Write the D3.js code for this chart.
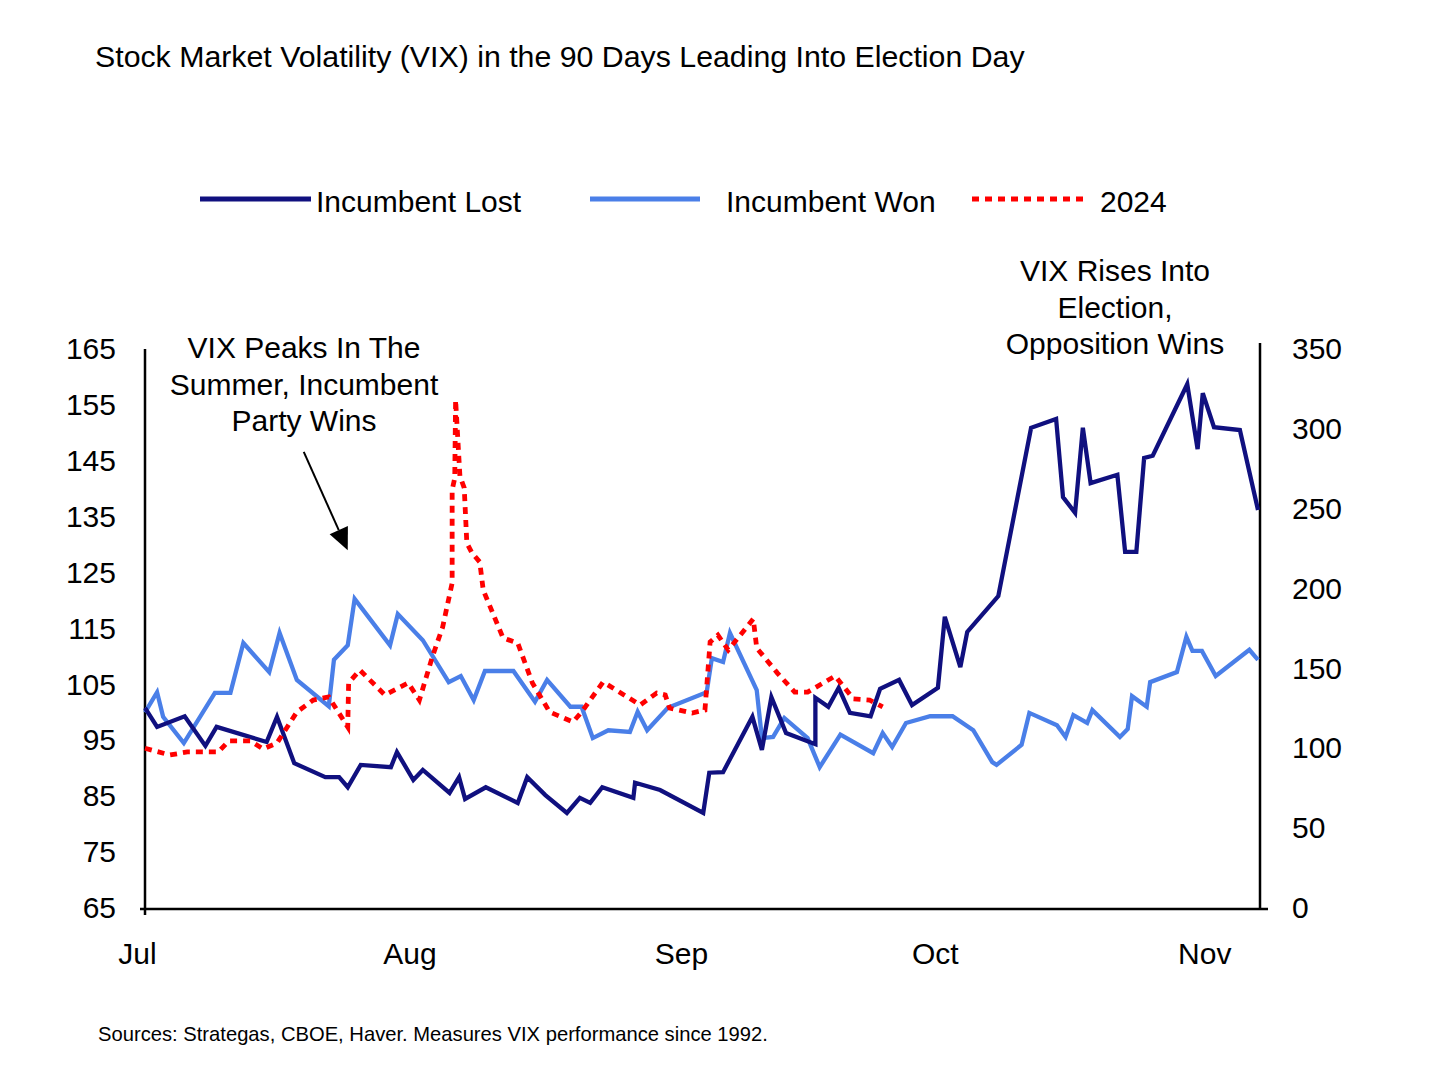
<!DOCTYPE html>
<html>
<head>
<meta charset="utf-8">
<script src="https://cdn.jsdelivr.net/npm/d3@7"></script>
<style>
  body { margin: 0; background: #fff; }
  svg text { font-family: "Liberation Sans", Arial, sans-serif; fill: #000; }
</style>
</head>
<body>
<div id="chart"></div>
<script>
// x values are days counted from July 1
const monthDays = [0, 31, 62, 92, 123];
const monthLabels = ["Jul", "Aug", "Sep", "Oct", "Nov"];
const leftTicks = [65, 75, 85, 95, 105, 115, 125, 135, 145, 155, 165];
const rightTicks = [0, 50, 100, 150, 200, 250, 300, 350];

const lostDays = [0, 1.4, 4.6, 7.0, 8.3, 14.1, 15.3, 17.3, 20.9, 22.5, 23.5, 25.0, 28.5, 29.2, 31.1, 32.2,
  35.3, 36.4, 37.1, 39.5, 43.2, 44.3, 46.4, 48.9, 50.4, 51.6, 53.0, 56.6, 56.8, 59.7, 64.7, 65.4, 67.0,
  70.4, 71.5, 72.6, 74.3, 77.7, 77.7, 79.2, 80.4, 81.7, 84.1, 85.2, 87.4, 88.9, 91.9, 92.7, 94.5, 95.3,
  98.9, 102.7, 105.6, 106.4, 107.8, 108.7, 109.6, 112.7, 113.6, 114.9, 115.8, 116.8, 120.8, 122.0, 122.6,
  123.9, 126.9, 129];
const lostValues = [100.8, 97.4, 99.3, 94.0, 97.4, 94.7, 99.2, 90.9, 88.4, 88.4, 86.6, 90.6, 90.2, 92.9, 87.9, 89.7,
  85.6, 88.4, 84.5, 86.6, 83.8, 88.4, 85.2, 82.0, 84.7, 83.8, 86.6, 84.7, 87.4, 86.1, 82.0, 89.2, 89.3,
  99.2, 93.3, 102.7, 96.3, 94.3, 102.6, 101.0, 104.4, 99.9, 99.3, 104.2, 105.8, 101.3, 104.4, 117.1, 108.1, 114.4,
  120.8, 150.9, 152.5, 138.5, 135.7, 150.9, 141.0, 142.5, 128.7, 128.7, 145.5, 145.9, 158.7, 147.1, 157.1,
  151.0, 150.5, 136.2];

const wonDays = [0, 1.4, 2.1, 4.5, 8.1, 9.9, 11.4, 14.4, 15.6, 17.6, 21.3, 21.9, 23.5, 24.3, 28.4, 29.3, 32.2,
  35.2, 36.6, 38.1, 39.4, 42.7, 45.2, 46.6, 49.3, 50.6, 51.9, 53.7, 56.2, 57.1, 58.2, 60.6, 65.1, 65.7, 67.0,
  67.8, 70.9, 71.5, 72.8, 74.1, 76.8, 78.2, 80.6, 84.4, 85.5, 86.6, 88.2, 91.0, 93.6, 96.0, 98.2, 98.7,
  101.6, 102.5, 105.7, 106.7, 107.6, 109.2, 109.8, 113.0, 113.9, 114.4, 116.1, 116.5, 119.6, 120.7, 121.4,
  122.5, 124.1, 128.0, 129];
const wonValues = [100, 103.6, 99.2, 94.5, 103.5, 103.5, 112.4, 107.2, 114.2, 105.8, 101.1, 109.4, 112, 120.3, 112, 117.6, 112.9,
  105.4, 106.5, 102.2, 107.4, 107.4, 101.9, 105.8, 101, 101, 95.4, 96.8, 96.5, 100.1, 96.8, 100.8, 103.6, 109.7, 109,
  114.2, 104, 95.4, 95.6, 99, 95.4, 90.2, 96, 92.7, 96.3, 93.8, 98.1, 99.3, 99.3, 96.8, 91.1, 90.6,
  94.2, 99.9, 97.7, 95.6, 99.5, 98.1, 100.4, 95.6, 97, 102.9, 101, 105.4, 107.2, 113.5, 111,
  111, 106.5, 111.2, 109.4];

const y2024Days = [0, 2.9, 4.9, 8.5, 9.7, 12.2, 13.7, 15.3, 17.6, 19.5, 21.3, 23.5, 23.6, 24.9, 27.8, 30.5,
  31.8, 33.3, 34.5, 35.6, 35.6, 35.9, 36.0, 36.5, 37.0, 37.3, 37.9, 38.8, 39.2, 41.5, 43.2, 44.9, 46.9,
  49.6, 50.6, 53.1, 57.4, 59.3, 60.3, 60.8, 63.4, 64.9, 65.5, 66.4, 67.6, 70.5, 70.9, 73.3, 75.3, 76.8,
  80.0, 82.1, 84.0, 85.5];
const y2024Values = [100, 95.8, 97.7, 97.7, 104.6, 104.6, 99.6, 103.3, 122.7, 130.2, 132.1, 113.3, 140.9, 149.0, 133.4, 140.9,
  130.2, 157.2, 175.9, 203.5, 261.7, 269.2, 318.1, 270.5, 263.0, 228.5, 222.3, 216.6, 199.1, 169.1, 165.9, 140.9, 122.7,
  116.5, 122.7, 141.5, 127.1, 134.6, 133.4, 125.2, 122.1, 124.0, 166.6, 170.9, 161.5, 181.0, 162.8, 147.1, 135.2, 135.2,
  145.3, 130.9, 130.2, 125.9];

const colors = { lost: "#10107f", won: "#4a7fe8", y2024: "#ff0000" };

const width = 1430, height = 1069;
const svg = d3.select("#chart").append("svg")
  .attr("width", width).attr("height", height);

const x = d3.scaleLinear().domain([0, 129]).range([145, 1258]);
const yLeft = d3.scaleLinear().domain([65, 165]).range([908, 349]);
const yRight = d3.scaleLinear().domain([0, 350]).range([908, 349]);

// title
svg.append("text").attr("x", 95).attr("y", 67)
  .style("font-size", "30.3px").text("Stock Market Volatility (VIX) in the 90 Days Leading Into Election Day");

// axes
const gLeft = svg.append("g").attr("transform", "translate(145,0)")
  .call(d3.axisLeft(yLeft).tickValues(leftTicks).tickSize(0).tickPadding(29));
const gRight = svg.append("g").attr("transform", "translate(1260,0)")
  .call(d3.axisRight(yRight).tickValues(rightTicks).tickSize(0).tickPadding(32));
const gBottom = svg.append("g").attr("transform", "translate(0,909)")
  .call(d3.axisBottom(x).tickValues(monthDays).tickFormat((d, i) => monthLabels[i]).tickSize(0).tickPadding(34));
gBottom.select(".domain").attr("d", "M140,0H1268");
gLeft.select(".domain").attr("d", "M0,349V915");
gRight.select(".domain").attr("d", "M0,343V909");

[gLeft, gRight, gBottom].forEach(g => {
  g.select(".domain").attr("stroke", "#000").attr("stroke-width", 2.5);
  g.selectAll("text").style("font-size", "30px").attr("fill", "#000").attr("font-family", null);
});
const labelShift = [-8, -3, 1, -4, -2];
gBottom.selectAll(".tick text").attr("dx", (d, i) => labelShift[i]);

// series
const toPts = (days, vals) => days.map((d, i) => ({ day: d, v: vals[i] }));
const lineL = d3.line().x(d => x(d.day)).y(d => yLeft(d.v));
const lineR = d3.line().x(d => x(d.day)).y(d => yRight(d.v));

svg.append("path").datum(toPts(wonDays, wonValues))
  .attr("d", lineL).attr("fill", "none").attr("stroke", colors.won).attr("stroke-width", 4.3);
svg.append("path").datum(toPts(lostDays, lostValues))
  .attr("d", lineL).attr("fill", "none").attr("stroke", colors.lost).attr("stroke-width", 4.3);
svg.append("path").datum(toPts(y2024Days, y2024Values))
  .attr("d", lineR).attr("fill", "none").attr("stroke", colors.y2024).attr("stroke-width", 4.8)
  .attr("stroke-dasharray", "7,6");

// legend
const legend = [
  { name: "Incumbent Lost", color: colors.lost, x1: 200, x2: 311, tx: 316, dash: null },
  { name: "Incumbent Won", color: colors.won, x1: 590, x2: 700, tx: 726, dash: null },
  { name: "2024", color: colors.y2024, x1: 972, x2: 1085, tx: 1100, dash: "7,6" }
];
legend.forEach(l => {
  svg.append("line").attr("x1", l.x1).attr("x2", l.x2).attr("y1", 199).attr("y2", 199)
    .attr("stroke", l.color).attr("stroke-width", 5).attr("stroke-dasharray", l.dash);
  svg.append("text").attr("x", l.tx).attr("y", 212).style("font-size", "30px").text(l.name);
});

// annotations
const note1 = ["VIX Peaks In The", "Summer, Incumbent", "Party Wins"];
const note2 = ["VIX Rises Into", "Election,", "Opposition Wins"];
note1.forEach((t, i) => svg.append("text").attr("x", 304).attr("y", 358 + i * 36.5)
  .attr("text-anchor", "middle").style("font-size", "30px").text(t));
note2.forEach((t, i) => svg.append("text").attr("x", 1115).attr("y", 281 + i * 36.5)
  .attr("text-anchor", "middle").style("font-size", "30px").text(t));

// arrow
const ax1 = x(18.4), ay1 = yLeft(146.6), ax2 = x(23.5), ay2 = yLeft(129);
const ang = Math.atan2(ay2 - ay1, ax2 - ax1);
const headLen = 22, headW = 10;
svg.append("line").attr("x1", ax1).attr("y1", ay1)
  .attr("x2", ax2 - Math.cos(ang) * headLen).attr("y2", ay2 - Math.sin(ang) * headLen)
  .attr("stroke", "#000").attr("stroke-width", 2);
const bx = ax2 - Math.cos(ang) * headLen, by = ay2 - Math.sin(ang) * headLen;
svg.append("path")
  .attr("d", `M${ax2},${ay2}L${bx - Math.sin(ang) * headW},${by + Math.cos(ang) * headW}L${bx + Math.sin(ang) * headW},${by - Math.cos(ang) * headW}Z`)
  .attr("fill", "#000");

// source
svg.append("text").attr("x", 98).attr("y", 1041).style("font-size", "20.2px")
  .text("Sources: Strategas, CBOE, Haver. Measures VIX performance since 1992.");
</script>
</body>
</html>
